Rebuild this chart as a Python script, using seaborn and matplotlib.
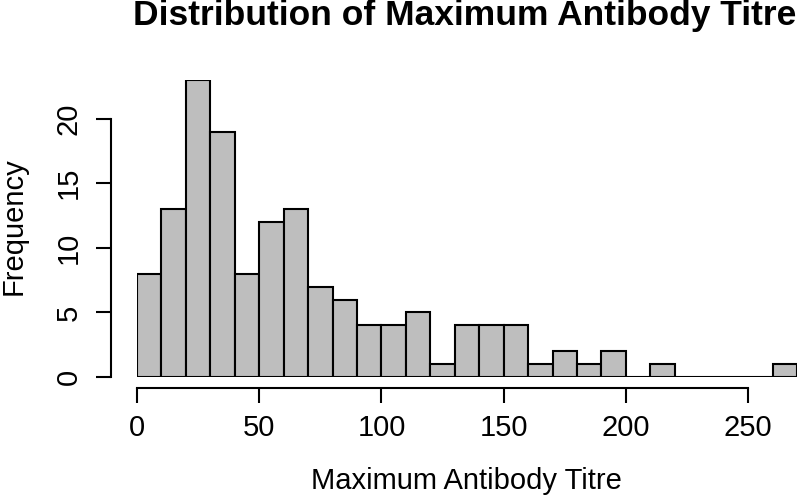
import numpy as np
import pandas as pd
import matplotlib
matplotlib.use("Agg")
import matplotlib.pyplot as plt
import seaborn as sns

# histogram bins (width 10) and counts
bin_edges = list(range(0, 280, 10))
counts = [8, 13, 23, 19, 8, 12, 13, 7, 6, 4, 4, 5, 1, 4, 4, 4, 1, 2, 1, 2, 0, 1, 0, 0, 0, 0, 1]
x_ticks = [0, 50, 100, 150, 200, 250]
y_ticks = [0, 5, 10, 15, 20]

df = pd.DataFrame({
    "titre": [(lo + hi) / 2 for lo, hi in zip(bin_edges[:-1], bin_edges[1:])],
    "count": counts,
})

sns.set_style("ticks")
plt.rcParams['font.family'] = ['Liberation Sans', 'DejaVu Sans']
plt.rcParams.update({"text.color": "black", "axes.labelcolor": "black",
                     "xtick.color": "black", "ytick.color": "black"})

fig = plt.figure(figsize=(8, 4.96), dpi=100)
W, H = 800, 496
x0, x1, y0, y1 = 137, 797, 377, 80   # plot region in pixels
ax = fig.add_axes([x0 / W, (H - y0) / H, (x1 - x0) / W, (y0 - y1) / H])

sns.histplot(data=df, x="titre", weights="count", bins=bin_edges, ax=ax,
             color="#bebebe", edgecolor="black", linewidth=1.5, alpha=1)

ax.set_xlim(0, 270)
ax.set_ylim(0, 23)

for s in ["top", "right"]:
    ax.spines[s].set_visible(False)
ax.spines["left"].set_position(("outward", 18.7))
ax.spines["bottom"].set_position(("outward", 8))
ax.spines["left"].set_bounds(0, 20)
ax.spines["bottom"].set_bounds(0, 250)
for s in ["left", "bottom"]:
    ax.spines[s].set_linewidth(1.5)
    ax.spines[s].set_color("black")

ax.set_xticks(x_ticks)
ax.set_yticks(y_ticks)
ax.tick_params(axis="both", length=10.5, width=1.5, labelsize=21, direction="out")
ax.tick_params(axis="x", pad=8)
ax.tick_params(axis="y", pad=10)
for lab in ax.get_yticklabels():
    lab.set_rotation(90)
    lab.set_va("center")

ax.set_xlabel("Maximum Antibody Titre", fontsize=21, va="baseline")
ax.xaxis.set_label_coords((466 - x0) / (x1 - x0), (y0 - 489) / (y0 - y1))
ax.set_ylabel("Frequency", fontsize=21, va="center")
ax.yaxis.set_label_coords((14 - x0) / (x1 - x0), (y0 - 226) / (y0 - y1))

fig.text(465 / W, 1 - 25 / H, "Distribution of Maximum Antibody Titre",
         ha="center", va="baseline", fontsize=25.5, fontweight="bold")

fig.savefig("out.png", dpi=100)
